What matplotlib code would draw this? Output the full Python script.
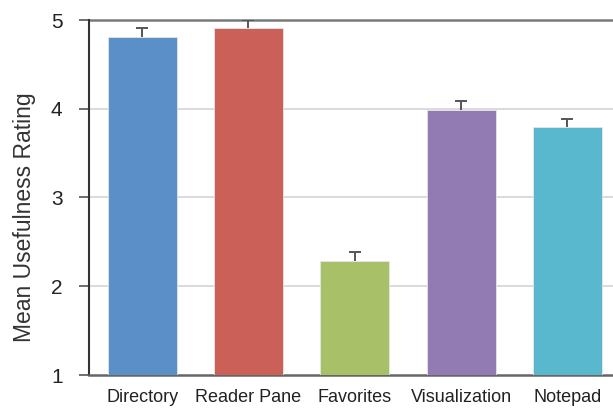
import numpy as np
import matplotlib.pyplot as plt

plt.rcParams["font.family"] = ["Liberation Sans", "DejaVu Sans"]

features = ["Directory", "Reader Pane", "Favorites", "Visualization", "Notepad"]
means = [4.81, 4.91, 2.29, 3.99, 3.79]
errors = [0.10, 0.09, 0.10, 0.10, 0.10]
colors = ["#5b8fc7", "#cb6058", "#a8c068", "#927ab2", "#59b7ce"]

fig = plt.figure(figsize=(6.13, 4.11), dpi=100)
ax = fig.add_axes([89 / 613, 36 / 411, 531.5 / 613, 355 / 411])

x = np.arange(len(features))
ax.bar(x, [m - 1 for m in means], bottom=1, width=0.65, color=colors,
       edgecolor="#e6e6e6", linewidth=0.6, zorder=3)
eb = ax.errorbar(x, means, yerr=[np.zeros(len(errors)), errors], fmt="none",
                 ecolor="#555555", elinewidth=1.4, capsize=4, capthick=1.4, zorder=4)
# keep only the upper cap
eb[1][0].remove()

ax.set_xlim(-0.5, 4.5)
ax.set_ylim(1, 5)
ax.set_yticks([1, 2, 3, 4, 5])
for yv in [2, 3, 4]:
    ax.axhline(yv, color="#d4d4d4", linewidth=1.2, zorder=1)
ax.axhline(5, color="#7a7a7a", linewidth=1.8, zorder=2, clip_on=False)

ax.set_xticks(x)
ax.set_xticklabels(features, fontsize=13, color="#222222")
ax.tick_params(axis="x", length=0, pad=10)
ax.tick_params(axis="y", length=7, width=1.2, color="#555555", labelsize=15,
               pad=12, labelcolor="#222222")
ax.set_ylabel("Mean Usefulness Rating", fontsize=16.5, color="#333333")
ax.yaxis.set_label_coords(-0.10, 0.445)

for side in ["top", "right"]:
    ax.spines[side].set_visible(False)
ax.spines["left"].set_color("#333333")
ax.spines["left"].set_linewidth(1.5)
ax.spines["bottom"].set_color("#666666")
ax.spines["bottom"].set_linewidth(1.8)

fig.savefig("out.png", dpi=100)
